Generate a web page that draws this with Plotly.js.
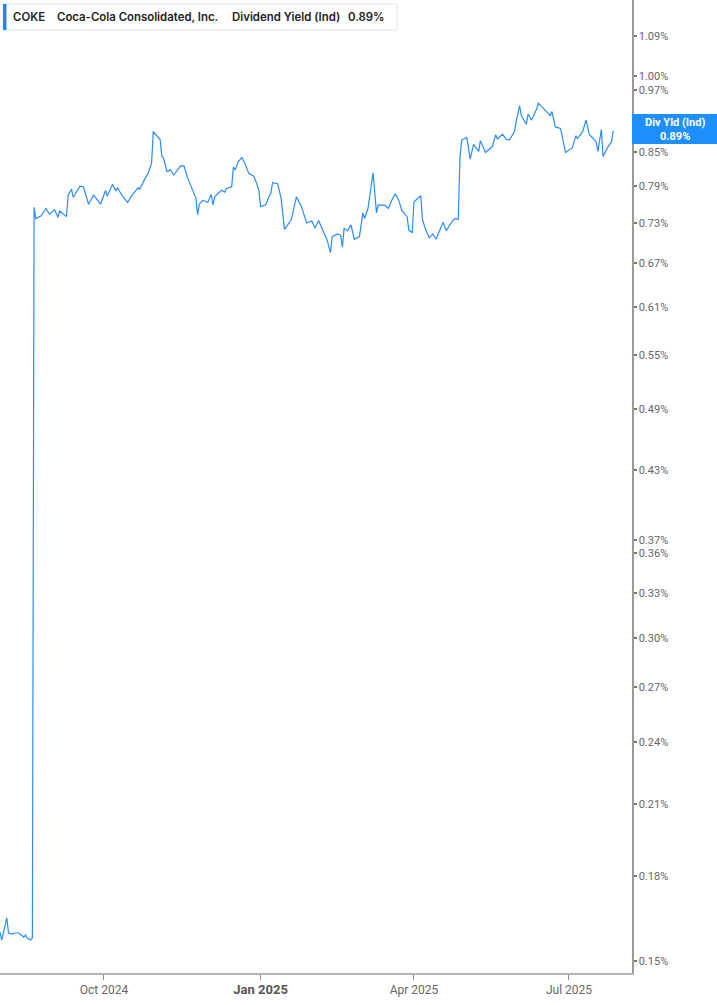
<!DOCTYPE html>
<html>
<head>
<meta charset="utf-8">
<script src="https://cdn.plot.ly/plotly-3.0.1.min.js"></script>
<style>
  html, body { margin: 0; padding: 0; background: #fff; }
  #chart { width: 717px; height: 1005px; }
</style>
</head>
<body>
<div id="chart"></div>
<script>
// dividend yield (indicated), in percent
const dates = [
  '2024-08-01','2024-08-02','2024-08-05','2024-08-06','2024-08-08','2024-08-10','2024-08-12','2024-08-13','2024-08-15','2024-08-16','2024-08-17','2024-08-19','2024-08-20',
  '2024-08-21','2024-08-22','2024-08-25','2024-08-28','2024-08-30','2024-09-02','2024-09-04','2024-09-05','2024-09-09','2024-09-10','2024-09-12','2024-09-13','2024-09-15','2024-09-17','2024-09-19','2024-09-22','2024-09-25','2024-09-29',
  '2024-10-02','2024-10-03','2024-10-06','2024-10-08','2024-10-09','2024-10-12','2024-10-15','2024-10-17','2024-10-21','2024-10-22','2024-10-25','2024-10-27','2024-10-29','2024-10-30',
  '2024-11-03','2024-11-04','2024-11-05','2024-11-07','2024-11-09','2024-11-11','2024-11-15','2024-11-17','2024-11-19','2024-11-24','2024-11-25','2024-11-26','2024-11-28',
  '2024-12-01','2024-12-03','2024-12-04','2024-12-05','2024-12-09','2024-12-11','2024-12-12','2024-12-15','2024-12-16','2024-12-17','2024-12-19','2024-12-21','2024-12-23','2024-12-25','2024-12-28','2024-12-30','2024-12-31',
  '2025-01-01','2025-01-04','2025-01-06','2025-01-07','2025-01-08','2025-01-11','2025-01-13','2025-01-15','2025-01-19','2025-01-22','2025-01-25','2025-01-28','2025-01-31',
  '2025-02-02','2025-02-04','2025-02-09','2025-02-11','2025-02-12','2025-02-15','2025-02-17','2025-02-18','2025-02-19','2025-02-21','2025-02-23','2025-02-25','2025-02-28',
  '2025-03-02','2025-03-03','2025-03-05','2025-03-08','2025-03-10','2025-03-11','2025-03-15','2025-03-17','2025-03-19','2025-03-21','2025-03-23','2025-03-25','2025-03-28','2025-03-29','2025-03-31',
  '2025-04-01','2025-04-05','2025-04-06','2025-04-08','2025-04-10','2025-04-12','2025-04-14','2025-04-18','2025-04-20','2025-04-23','2025-04-25','2025-04-27','2025-04-28','2025-04-29',
  '2025-05-02','2025-05-04','2025-05-06','2025-05-09','2025-05-10','2025-05-13','2025-05-17','2025-05-19','2025-05-20','2025-05-23','2025-05-25','2025-05-27','2025-05-30','2025-05-31',
  '2025-06-02','2025-06-03','2025-06-06','2025-06-07','2025-06-09','2025-06-12','2025-06-13','2025-06-17','2025-06-20','2025-06-21','2025-06-23','2025-06-26','2025-06-28','2025-06-29',
  '2025-07-03','2025-07-05','2025-07-06','2025-07-09','2025-07-11','2025-07-13','2025-07-15','2025-07-17','2025-07-18','2025-07-20','2025-07-21','2025-07-24','2025-07-26','2025-07-27'
];

const yieldPct = [
  0.1596, 0.1569, 0.1645, 0.1593, 0.1589, 0.1593, 0.1593, 0.1589, 0.1579, 0.1586, 0.1576, 0.1569, 0.1576,
  0.755, 0.737, 0.741, 0.753, 0.744, 0.751, 0.739, 0.749, 0.740, 0.775, 0.785, 0.771, 0.781, 0.790, 0.789, 0.760, 0.775, 0.760,
  0.783, 0.773, 0.793, 0.782, 0.787, 0.773, 0.763, 0.773, 0.787, 0.785, 0.802, 0.812, 0.831, 0.888,
  0.873, 0.842, 0.839, 0.815, 0.818, 0.809, 0.825, 0.825, 0.805, 0.770, 0.743, 0.760, 0.766,
  0.763, 0.776, 0.759, 0.772, 0.783, 0.780, 0.786, 0.789, 0.823, 0.818, 0.833, 0.840, 0.828, 0.812, 0.807, 0.792, 0.782,
  0.756, 0.759, 0.773, 0.778, 0.796, 0.794, 0.770, 0.720, 0.735, 0.772, 0.756, 0.730, 0.733,
  0.722, 0.734, 0.704, 0.685, 0.709, 0.713, 0.711, 0.693, 0.722, 0.718, 0.727, 0.705, 0.709,
  0.746, 0.737, 0.753, 0.813, 0.746, 0.759, 0.758, 0.753, 0.767, 0.777, 0.767, 0.749, 0.740, 0.719, 0.715,
  0.764, 0.774, 0.735, 0.719, 0.707, 0.713, 0.705, 0.731, 0.718, 0.731, 0.737, 0.736, 0.839, 0.872,
  0.877, 0.837, 0.864, 0.851, 0.871, 0.849, 0.860, 0.882, 0.874, 0.883, 0.874, 0.872, 0.888, 0.907,
  0.939, 0.919, 0.902, 0.922, 0.910, 0.932, 0.944, 0.930, 0.919, 0.927, 0.897, 0.894, 0.863, 0.849,
  0.858, 0.880, 0.875, 0.888, 0.910, 0.882, 0.876, 0.868, 0.851, 0.892, 0.842, 0.860, 0.869, 0.890
];

const yTicks = [1.09, 1.00, 0.97, 0.85, 0.79, 0.73, 0.67, 0.61, 0.55, 0.49, 0.43, 0.37, 0.36, 0.33, 0.30, 0.27, 0.24, 0.21, 0.18, 0.15];
const xTickDates = ['2024-10-01', '2025-01-01', '2025-04-01', '2025-07-01'];
const xTickLabels = ['Oct 2024', '<b><span style="font-size:13px;fill:#555">Jan 2025</span></b>', 'Apr 2025', 'Jul 2025'];

const lastYield = yieldPct[yieldPct.length - 1];

// plot area in px, used to place the overlay boxes
const W = 632, H = 973;
const px = x => x / W;
const py = y => 1 - y / H;

const trace = {
  x: dates,
  y: yieldPct,
  type: 'scatter',
  mode: 'lines',
  line: { color: '#2b8cf7', width: 1.2 },
  hoverinfo: 'skip'
};

const legendFont = { family: 'Inter, Roboto, sans-serif', size: 11.4, color: '#222', weight: 600 };

const layout = {
  width: 717,
  height: 1005,
  margin: { l: 0, r: 85, t: 0, b: 32 },
  paper_bgcolor: '#fff',
  plot_bgcolor: '#fff',
  showlegend: false,
  xaxis: {
    type: 'date',
    range: ['2024-08-01', '2025-08-07'],
    tickvals: xTickDates,
    ticktext: xTickLabels,
    ticks: 'outside',
    ticklen: 5,
    tickwidth: 1,
    tickcolor: '#888',
    showline: true,
    linecolor: '#b5b5b5',
    linewidth: 2,
    showgrid: false,
    zeroline: false,
    tickfont: { family: 'Roboto, sans-serif', size: 12, color: '#666' }
  },
  yaxis: {
    type: 'log',
    side: 'right',
    range: [Math.log10(0.1462), Math.log10(1.1775)],
    tickvals: yTicks,
    ticktext: yTicks.map(v => v.toFixed(2) + '%'),
    ticks: 'outside',
    ticklen: 3,
    tickwidth: 2,
    tickcolor: '#777',
    showline: true,
    linecolor: '#9a9a9a',
    linewidth: 1.5,
    showgrid: false,
    zeroline: false,
    tickfont: { family: 'Roboto, sans-serif', size: 11, color: '#666' }
  },
  shapes: [
    { type: 'rect', xref: 'paper', yref: 'paper', x0: px(3), x1: px(397), y0: py(30), y1: py(4),
      fillcolor: '#fff', line: { color: '#e4e4e4', width: 1 } },
    { type: 'rect', xref: 'paper', yref: 'paper', x0: px(3), x1: px(6.5), y0: py(30), y1: py(4),
      fillcolor: '#1e88ff', line: { width: 0 } },
    { type: 'rect', xref: 'paper', yref: 'paper', x0: 1, x1: px(717), y0: py(144), y1: py(114),
      fillcolor: '#1e8fff', line: { width: 0 } }
  ],
  annotations: [
    { xref: 'paper', yref: 'paper', x: px(11), y: py(17), xanchor: 'left', yanchor: 'middle',
      showarrow: false, text: 'COKE', font: legendFont },
    { xref: 'paper', yref: 'paper', x: px(55), y: py(17), xanchor: 'left', yanchor: 'middle',
      showarrow: false, text: 'Coca-Cola Consolidated, Inc.', font: legendFont },
    { xref: 'paper', yref: 'paper', x: px(230), y: py(17), xanchor: 'left', yanchor: 'middle',
      showarrow: false, text: 'Dividend Yield (Ind)', font: legendFont },
    { xref: 'paper', yref: 'paper', x: px(346), y: py(17), xanchor: 'left', yanchor: 'middle',
      showarrow: false, text: lastYield.toFixed(2) + '%', font: legendFont },
    { xref: 'paper', yref: 'paper', x: px(674.5), y: py(129), xanchor: 'center', yanchor: 'middle',
      showarrow: false, text: 'Div Yld (Ind)<br>' + lastYield.toFixed(2) + '%',
      font: { family: 'Roboto, sans-serif', size: 11, color: '#fff', weight: 700 } }
  ]
};

Plotly.newPlot('chart', [trace], layout, { displayModeBar: false, staticPlot: true });
</script>
</body>
</html>
